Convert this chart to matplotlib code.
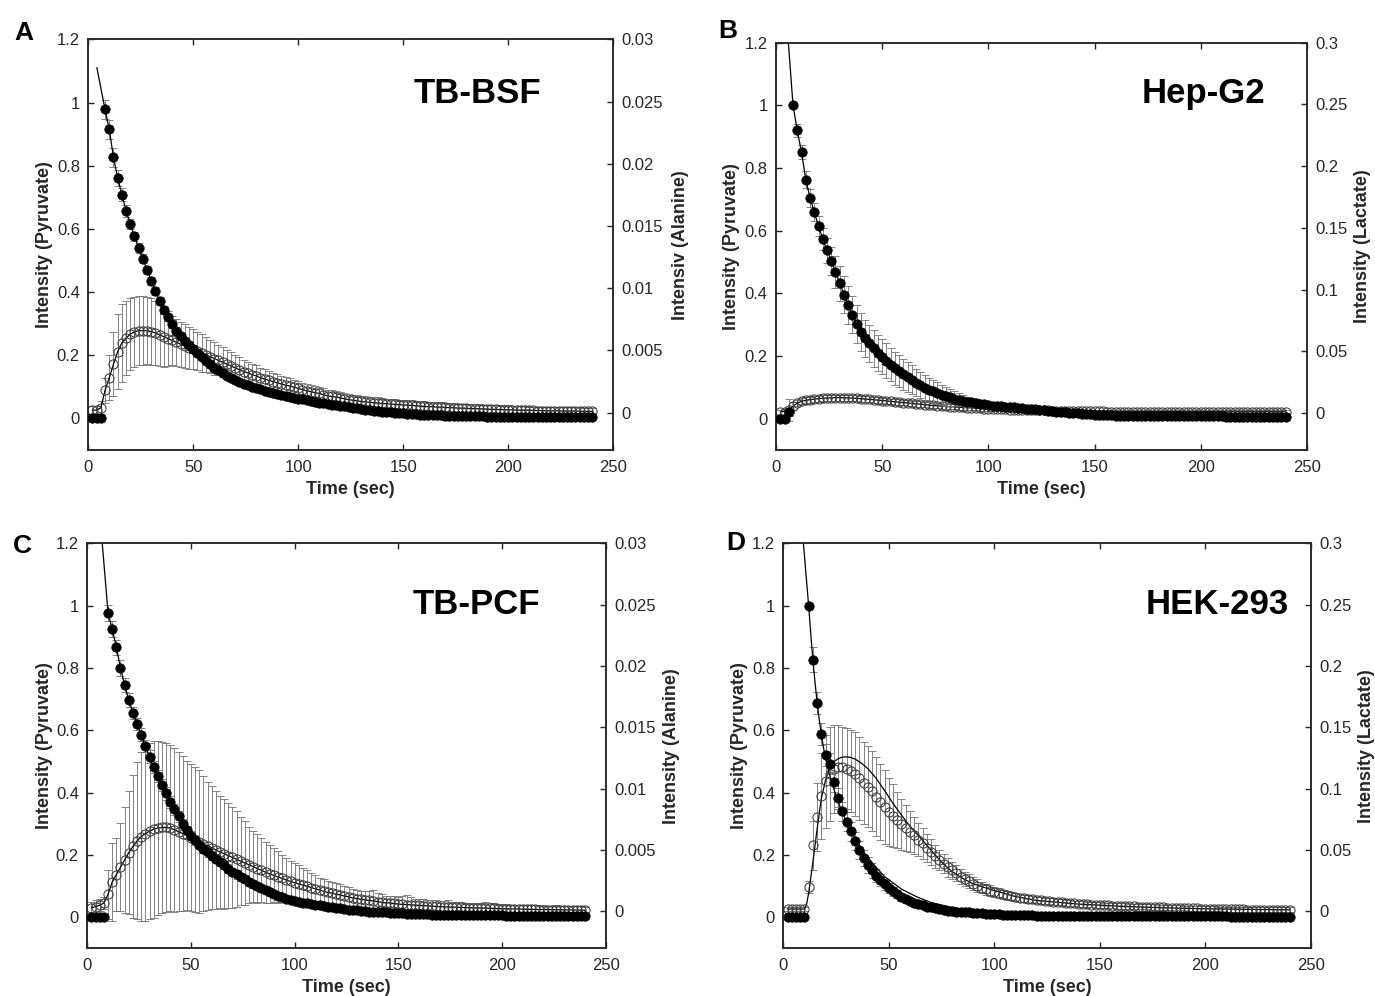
import numpy as np
import matplotlib
matplotlib.use('Agg')
import matplotlib.pyplot as plt

plt.rcParams['font.family'] = ['Liberation Sans', 'DejaVu Sans']

# ---------------- data ----------------
time_s = np.arange(2, 242, 2)  # acquisition times (s), 120 points

# Panel A : TB-BSF  (pyruvate left axis, alanine right axis)
pyr_A = [0, 0, 0, .978, .915, .826, .762, .708, .657, .615,
         .576, .539, .505, .470, .436, .403, .372, .344, .320, .298,
         .278, .261, .246, .232, .219, .206, .194, .182, .171, .161,
         .152, .143, .135, .128, .121, .115, .110, .105, .100, .096,
         .092, .088, .084, .081, .078, .075, .071, .068, .065, .062,
         .060, .057, .055, .052, .050, .048, .046, .044, .042, .040,
         .038, .036, .034, .032, .030, .028, .026, .024, .023, .021,
         .020, .019, .018, .017, .016, .015, .014, .013, .012, .012,
         .011, .011, .010, .010, .009, .009, .009, .008, .008, .008,
         .007, .007, .007, .007, .006, .006, .006, .006, .005, .005,
         .005, .005, .005, .005, .004, .004, .004, .004, .004, .004,
         .004, .004, .004, .003, .003, .003, .003, .003, .003, .003]
pyr_err_A = [.003, .003, .003, .030, .030, .030, .025, .020, .018, .016,
             .015, .015, .014, .014, .013, .013, .012, .012, .011, .011,
             .010, .010, .010, .010, .010, .010, .010, .010, .010, .010,
             .009, .009, .009, .009, .009, .008, .008, .008, .008, .008,
             .008, .008, .007, .007, .007, .007, .007, .007, .007, .007,
             .006, .006, .006, .006, .006, .006, .006, .006, .006, .006,
             .005, .005, .005, .005, .005, .005, .005, .005, .005, .005,
             .005, .005, .005, .005, .004, .004, .004, .004, .004, .004,
             .004, .004, .004, .004, .004, .004, .004, .004, .004, .004,
             .004, .004, .004, .003, .003, .003, .003, .003, .003, .003,
             .003, .003, .003, .003, .003, .003, .003, .003, .003, .003,
             .003, .003, .003, .003, .003, .003, .003, .003, .003, .003]
ala_A_milli = [0.2, 0.2, 0.4, 1.8, 2.8, 3.9, 4.9, 5.6, 6.0, 6.3,
               6.5, 6.6, 6.6, 6.6, 6.5, 6.4, 6.25, 6.1, 5.95, 5.8,
               5.65, 5.5, 5.35, 5.2, 5.1, 4.95, 4.8, 4.65, 4.5, 4.35,
               4.2, 4.05, 3.9, 3.75, 3.6, 3.45, 3.3, 3.2, 3.05, 2.95,
               2.8, 2.7, 2.6, 2.5, 2.4, 2.3, 2.2, 2.15, 2.05, 1.95,
               1.85, 1.75, 1.7, 1.6, 1.55, 1.45, 1.35, 1.3, 1.25, 1.2,
               1.1, 1.05, 1.0, 0.95, 0.9, 0.87, 0.83, 0.8, 0.77, 0.74,
               0.71, 0.69, 0.67, 0.65, 0.62, 0.6, 0.58, 0.55, 0.53, 0.5,
               0.48, 0.47, 0.45, 0.44, 0.42, 0.4, 0.39, 0.37, 0.36, 0.35,
               0.33, 0.32, 0.31, 0.3, 0.28, 0.27, 0.26, 0.25, 0.24, 0.23,
               0.22, 0.21, 0.2, 0.2, 0.19, 0.18, 0.17, 0.17, 0.16, 0.15,
               0.15, 0.14, 0.14, 0.13, 0.13, 0.12, 0.12, 0.11, 0.11, 0.1]
ala_err_A_milli = [0.3, 0.3, 0.5, 1.0, 1.8, 2.6, 3.0, 3.1, 3.0, 2.9,
                   2.8, 2.8, 2.8, 2.7, 2.7, 2.6, 2.5, 2.4, 2.2, 2.0,
                   1.9, 1.8, 1.8, 1.7, 1.6, 1.5, 1.5, 1.4, 1.3, 1.3,
                   1.2, 1.2, 1.1, 1.1, 1.0, 1.0, 0.95, 0.9, 0.9, 0.85,
                   0.8, 0.8, 0.75, 0.7, 0.7, 0.65, 0.65, 0.6, 0.6, 0.6,
                   0.55, 0.55, 0.55, 0.55, 0.55, 0.5, 0.5, 0.5, 0.5, 0.5,
                   0.45, 0.45, 0.45, 0.45, 0.45, 0.45, 0.45, 0.45, 0.45, 0.45,
                   0.4, 0.4, 0.4, 0.4, 0.4, 0.4, 0.4, 0.4, 0.4, 0.4,
                   0.4, 0.4, 0.4, 0.4, 0.35, 0.35, 0.35, 0.35, 0.35, 0.35,
                   0.35, 0.35, 0.35, 0.35, 0.35, 0.35, 0.35, 0.35, 0.35, 0.35,
                   0.3, 0.3, 0.3, 0.3, 0.3, 0.3, 0.3, 0.3, 0.3, 0.3,
                   0.3, 0.3, 0.3, 0.3, 0.3, 0.3, 0.3, 0.3, 0.3, 0.3]
pyr_fit_start_A = (4.1, 1.11)

# Panel B : Hep-G2 (pyruvate left, lactate right)
pyr_B = [0, 0, 0.02, 1.0, 0.92, 0.85, 0.763, 0.705, 0.66, 0.615,
         0.573, 0.538, 0.504, 0.468, 0.432, 0.396, 0.362, 0.332, 0.302, 0.276,
         0.256, 0.240, 0.224, 0.210, 0.197, 0.185, 0.172, 0.161, 0.152, 0.142,
         0.133, 0.124, 0.115, 0.107, 0.099, 0.092, 0.087, 0.082, 0.077, 0.072,
         0.068, 0.064, 0.060, 0.057, 0.054, 0.052, 0.050, 0.048, 0.046, 0.044,
         0.042, 0.041, 0.039, 0.038, 0.037, 0.036, 0.035, 0.033, 0.032, 0.031,
         0.030, 0.028, 0.027, 0.026, 0.024, 0.022, 0.021, 0.020, 0.019, 0.018,
         0.017, 0.016, 0.015, 0.014, 0.013, 0.012, 0.012, 0.011, 0.011, 0.010,
         0.010, 0.010, 0.009, 0.009, 0.009, 0.009, 0.008, 0.008, 0.008, 0.008,
         0.008, 0.007, 0.007, 0.007, 0.007, 0.007, 0.007, 0.007, 0.007, 0.007,
         0.007, 0.007, 0.007, 0.007, 0.007, 0.006, 0.006, 0.006, 0.006, 0.006,
         0.006, 0.006, 0.006, 0.006, 0.006, 0.005, 0.005, 0.005, 0.005, 0.005]
pyr_err_B = [0.005, 0.005, 0.01, 0.0, 0.02, 0.022, 0.026, 0.028, 0.03, 0.033,
             0.036, 0.04, 0.045, 0.05, 0.055, 0.058, 0.06, 0.06, 0.06, 0.06,
             0.06, 0.06, 0.058, 0.058, 0.056, 0.055, 0.053, 0.052, 0.05, 0.049,
             0.048, 0.046, 0.044, 0.042, 0.04, 0.038, 0.036, 0.034, 0.032, 0.03,
             0.027, 0.024, 0.021, 0.018, 0.016, 0.014, 0.013, 0.012, 0.011, 0.01,
             0.01, 0.009, 0.009, 0.008, 0.008, 0.008, 0.007, 0.007, 0.007, 0.006,
             0.006, 0.006, 0.006, 0.006, 0.006, 0.006, 0.006, 0.006, 0.006, 0.006,
             0.005, 0.005, 0.005, 0.005, 0.005, 0.005, 0.005, 0.005, 0.005, 0.005,
             0.005, 0.005, 0.005, 0.005, 0.005, 0.005, 0.005, 0.005, 0.005, 0.005,
             0.004, 0.004, 0.004, 0.004, 0.004, 0.004, 0.004, 0.004, 0.004, 0.004,
             0.004, 0.004, 0.004, 0.004, 0.004, 0.004, 0.004, 0.004, 0.004, 0.004,
             0.004, 0.004, 0.004, 0.004, 0.004, 0.004, 0.004, 0.004, 0.004, 0.004]
lac_B_milli = [1.0, 1.1, 2.5, 5.5, 8.0, 9.4, 10.2, 10.8, 11.2, 11.6,
               11.9, 12.1, 12.3, 12.4, 12.4, 12.3, 12.2, 12.0, 11.8, 11.6,
               11.3, 11.0, 10.7, 10.4, 10.1, 9.8, 9.4, 9.1, 8.7, 8.4,
               8.1, 7.8, 7.4, 7.1, 6.7, 6.4, 6.1, 5.8, 5.5, 5.3,
               5.1, 4.9, 4.7, 4.5, 4.3, 4.1, 3.9, 3.7, 3.5, 3.4,
               3.2, 3.1, 3.0, 2.9, 2.8, 2.7, 2.6, 2.5, 2.4, 2.3,
               2.2, 2.2, 2.1, 2.1, 2.0, 2.0, 1.9, 1.8, 1.8, 1.7,
               1.6, 1.5, 1.4, 1.4, 1.3, 1.2, 1.2, 1.1, 1.1, 1.1,
               1.1, 1.1, 1.1, 1.1, 1.1, 1.1, 1.1, 1.1, 1.1, 1.1,
               1.1, 1.1, 1.1, 1.1, 1.1, 1.0, 1.0, 1.0, 1.0, 1.0,
               1.0, 1.0, 1.0, 1.0, 1.0, 1.0, 1.0, 1.0, 1.0, 1.0,
               1.0, 1.0, 1.0, 1.0, 1.0, 1.0, 1.0, 1.0, 1.0, 1.0]
lac_err_B_milli = [1.5, 2.0, 9.0, 3.0, 2.5, 2.5, 2.5, 2.5, 2.5, 2.5,
                   2.5, 2.5, 2.5, 2.5, 2.5, 2.4, 2.4, 2.4, 2.4, 2.4,
                   2.4, 2.4, 2.4, 2.3, 2.3, 2.3, 2.3, 2.3, 2.3, 2.3,
                   2.2, 2.2, 2.2, 2.2, 2.1, 2.1, 2.1, 2.1, 2.0, 2.0,
                   2.0, 2.0, 1.9, 1.9, 1.9, 1.9, 1.8, 1.8, 1.8, 1.8,
                   1.7, 1.7, 1.7, 1.7, 1.7, 1.6, 1.6, 1.6, 1.6, 1.6,
                   1.5, 1.5, 1.5, 1.5, 1.5, 1.5, 1.5, 1.5, 1.5, 1.5,
                   1.4, 1.4, 1.4, 1.4, 1.4, 1.4, 1.4, 1.4, 1.4, 1.4,
                   1.3, 1.3, 1.3, 1.3, 1.3, 1.3, 1.3, 1.3, 1.3, 1.3,
                   1.3, 1.3, 1.3, 1.3, 1.3, 1.2, 1.2, 1.2, 1.2, 1.2,
                   1.2, 1.2, 1.2, 1.2, 1.2, 1.2, 1.2, 1.2, 1.2, 1.2,
                   1.2, 1.2, 1.2, 1.2, 1.2, 1.2, 1.2, 1.2, 1.2, 1.2]
pyr_fit_start_B = (5.8, 1.2)

# Panel C : TB-PCF (pyruvate left, alanine right)
pyr_C = [0, 0, 0, 0, 0.977, 0.925, 0.866, 0.80, 0.745, 0.697,
         0.656, 0.62, 0.586, 0.549, 0.515, 0.482, 0.453, 0.424, 0.397, 0.37,
         0.346, 0.324, 0.30, 0.279, 0.262, 0.248, 0.233, 0.220, 0.208, 0.197,
         0.187, 0.178, 0.167, 0.156, 0.146, 0.137, 0.129, 0.121, 0.113, 0.106,
         0.099, 0.092, 0.086, 0.080, 0.074, 0.069, 0.064, 0.059, 0.055, 0.052,
         0.049, 0.046, 0.044, 0.042, 0.040, 0.038, 0.035, 0.033, 0.031, 0.030,
         0.028, 0.026, 0.024, 0.023, 0.022, 0.020, 0.019, 0.018, 0.017, 0.016,
         0.015, 0.015, 0.014, 0.013, 0.012, 0.012, 0.011, 0.010, 0.010, 0.009,
         0.009, 0.009, 0.008, 0.008, 0.008, 0.007, 0.007, 0.007, 0.007, 0.006,
         0.006, 0.006, 0.006, 0.006, 0.006, 0.006, 0.006, 0.006, 0.006, 0.006,
         0.005, 0.005, 0.005, 0.005, 0.005, 0.005, 0.005, 0.005, 0.005, 0.005,
         0.004, 0.004, 0.004, 0.004, 0.004, 0.003, 0.003, 0.003, 0.003, 0.003]
pyr_err_C = [0.005, 0.005, 0.005, 0.005, 0.025, 0.025, 0.025, 0.025, 0.022, 0.022,
             0.02, 0.02, 0.02, 0.02, 0.02, 0.02, 0.02, 0.02, 0.02, 0.02,
             0.018, 0.017, 0.016, 0.015, 0.015, 0.015, 0.015, 0.015, 0.015, 0.015,
             0.013, 0.013, 0.013, 0.013, 0.013, 0.013, 0.013, 0.013, 0.013, 0.013,
             0.011, 0.011, 0.011, 0.011, 0.011, 0.011, 0.011, 0.011, 0.011, 0.011,
             0.009, 0.009, 0.009, 0.009, 0.009, 0.008, 0.008, 0.008, 0.008, 0.008,
             0.007, 0.007, 0.007, 0.007, 0.007, 0.007, 0.007, 0.007, 0.007, 0.007,
             0.006, 0.006, 0.006, 0.006, 0.006, 0.006, 0.006, 0.006, 0.006, 0.006,
             0.005, 0.005, 0.005, 0.005, 0.005, 0.005, 0.005, 0.005, 0.005, 0.005,
             0.005, 0.005, 0.005, 0.005, 0.005, 0.004, 0.004, 0.004, 0.004, 0.004,
             0.004, 0.004, 0.004, 0.004, 0.004, 0.004, 0.004, 0.004, 0.004, 0.004,
             0.004, 0.004, 0.004, 0.004, 0.004, 0.004, 0.004, 0.004, 0.004, 0.004]
ala_C_milli = [0.3, 0.4, 0.5, 0.7, 1.4, 2.4, 3.0, 3.6, 4.2, 4.8,
               5.3, 5.75, 6.1, 6.35, 6.55, 6.7, 6.8, 6.85, 6.85, 6.8,
               6.65, 6.5, 6.35, 6.2, 6.0, 5.85, 5.7, 5.5, 5.35, 5.2,
               5.0, 4.85, 4.7, 4.55, 4.4, 4.25, 4.1, 3.95, 3.8, 3.65,
               3.5, 3.35, 3.2, 3.05, 2.95, 2.8, 2.7, 2.55, 2.45, 2.35,
               2.25, 2.15, 2.05, 1.95, 1.85, 1.75, 1.65, 1.55, 1.5, 1.4,
               1.35, 1.25, 1.2, 1.1, 1.05, 1.0, 0.95, 0.9, 0.85, 0.8,
               0.75, 0.7, 0.7, 0.65, 0.6, 0.58, 0.56, 0.54, 0.52, 0.5,
               0.48, 0.46, 0.44, 0.42, 0.4, 0.38, 0.37, 0.36, 0.34, 0.33,
               0.32, 0.31, 0.3, 0.29, 0.28, 0.27, 0.26, 0.25, 0.24, 0.23,
               0.22, 0.21, 0.2, 0.2, 0.19, 0.18, 0.17, 0.17, 0.16, 0.16,
               0.15, 0.15, 0.14, 0.14, 0.13, 0.13, 0.12, 0.12, 0.11, 0.1]
ala_err_C_milli = [0.5, 0.5, 0.5, 0.5, 2.0, 3.2, 3.0, 3.6, 4.3, 5.0,
                   5.8, 6.4, 6.9, 7.1, 7.2, 7.2, 7.1, 7.0, 6.9, 6.8,
                   6.7, 6.5, 6.3, 6.1, 6.0, 5.9, 5.8, 5.5, 5.2, 5.0,
                   4.8, 4.6, 4.5, 4.3, 4.1, 3.9, 3.6, 3.4, 3.1, 2.9,
                   2.8, 2.6, 2.5, 2.4, 2.2, 2.1, 1.9, 1.8, 1.7, 1.6,
                   1.5, 1.4, 1.3, 1.2, 1.1, 1.0, 1.0, 0.95, 0.9, 0.9,
                   0.85, 0.8, 0.8, 0.75, 0.7, 0.7, 0.7, 0.8, 0.9, 0.7,
                   0.7, 0.6, 0.6, 0.6, 0.6, 0.7, 0.8, 0.6, 0.5, 0.5,
                   0.5, 0.5, 0.5, 0.5, 0.45, 0.45, 0.6, 0.45, 0.45, 0.45,
                   0.4, 0.4, 0.4, 0.4, 0.4, 0.5, 0.4, 0.4, 0.4, 0.4,
                   0.4, 0.35, 0.35, 0.35, 0.35, 0.35, 0.35, 0.35, 0.35, 0.35,
                   0.3, 0.3, 0.4, 0.3, 0.3, 0.3, 0.3, 0.3, 0.3, 0.3]
pyr_fit_start_C = (7.2, 1.2)

# Panel D : HEK-293 (pyruvate left, lactate right) - fitted model curves differ from data
pyr_D = [0, 0, 0, 0, 0, 1.0, 0.826, 0.688, 0.587, 0.52,
         0.493, 0.434, 0.383, 0.34, 0.306, 0.275, 0.245, 0.215, 0.19, 0.168,
         0.15, 0.133, 0.118, 0.105, 0.094, 0.083, 0.073, 0.064, 0.057, 0.051,
         0.046, 0.042, 0.038, 0.034, 0.031, 0.028, 0.025, 0.023, 0.021, 0.019,
         0.018, 0.017, 0.016, 0.015, 0.014, 0.013, 0.012, 0.011, 0.010, 0.009,
         0.009, 0.008, 0.007, 0.007, 0.007, 0.006, 0.006, 0.006, 0.006, 0.005,
         0.005, 0.005, 0.005, 0.005, 0.005, 0.005, 0.005, 0.005, 0.005, 0.005,
         0.004, 0.004, 0.004, 0.004, 0.004, 0.004, 0.004, 0.004, 0.004, 0.004,
         0.004, 0.004, 0.004, 0.004, 0.004, 0.003, 0.003, 0.003, 0.003, 0.003,
         0.003, 0.003, 0.003, 0.003, 0.003, 0.003, 0.003, 0.003, 0.003, 0.003,
         0.003, 0.003, 0.003, 0.003, 0.003, 0.002, 0.002, 0.002, 0.002, 0.002,
         0.002, 0.002, 0.002, 0.002, 0.002, 0.002, 0.002, 0.002, 0.002, 0.002]
pyr_err_D = [0.003, 0.003, 0.003, 0.003, 0.003, 0.0, 0.04, 0.036, 0.035, 0.035,
             0.035, 0.033, 0.031, 0.03, 0.03, 0.03, 0.029, 0.028, 0.027, 0.025,
             0.023, 0.021, 0.019, 0.017, 0.015, 0.014, 0.013, 0.012, 0.011, 0.01,
             0.009, 0.008, 0.008, 0.007, 0.007, 0.006, 0.006, 0.006, 0.005, 0.005,
             0.005, 0.005, 0.005, 0.005, 0.005, 0.005, 0.005, 0.005, 0.005, 0.005,
             0.004, 0.004, 0.004, 0.004, 0.004, 0.004, 0.004, 0.004, 0.004, 0.004,
             0.004, 0.004, 0.004, 0.004, 0.004, 0.004, 0.004, 0.004, 0.004, 0.004,
             0.003, 0.003, 0.003, 0.003, 0.003, 0.003, 0.003, 0.003, 0.003, 0.003,
             0.003, 0.003, 0.003, 0.003, 0.003, 0.003, 0.003, 0.003, 0.003, 0.003,
             0.003, 0.003, 0.003, 0.003, 0.003, 0.003, 0.003, 0.003, 0.003, 0.003,
             0.003, 0.003, 0.003, 0.003, 0.003, 0.003, 0.003, 0.003, 0.003, 0.003,
             0.003, 0.003, 0.003, 0.003, 0.003, 0.003, 0.003, 0.003, 0.003, 0.003]
lac_D_milli = [2.0, 2.0, 2.0, 2.0, 2.0, 20, 54, 77, 94, 106,
               112, 116, 117.6, 117.6, 116.5, 114.5, 112, 108.5, 105, 101.5,
               98, 93.5, 89, 85, 81, 78, 74.5, 71, 68, 65,
               62, 58.5, 55.5, 52, 48.5, 45, 42, 39, 36, 33.5,
               31, 28.5, 26.5, 24.5, 22.5, 21, 19.5, 18, 17, 16,
               15, 14, 13.2, 12.5, 11.8, 11.2, 10.7, 10.2, 9.8, 9.4,
               9.0, 8.6, 8.3, 8.0, 7.7, 7.4, 7.1, 6.8, 6.5, 6.3,
               6.0, 5.8, 5.6, 5.4, 5.2, 5.0, 4.9, 4.8, 4.6, 4.5,
               4.4, 4.3, 4.1, 4.0, 3.9, 3.8, 3.7, 3.6, 3.4, 3.3,
               3.2, 3.1, 3.0, 2.9, 2.8, 2.7, 2.6, 2.5, 2.4, 2.3,
               2.2, 2.1, 2.0, 1.9, 1.9, 1.8, 1.8, 1.7, 1.7, 1.6,
               1.6, 1.5, 1.5, 1.5, 1.4, 1.4, 1.4, 1.3, 1.3, 1.3]
lac_err_D_milli = [2, 2, 2, 2, 2, 5, 20, 28, 35, 38,
                   38, 36, 34, 33, 33, 33.5, 34, 34, 33.5, 33,
                   32.5, 32, 31, 30, 28, 25.5, 23, 21, 18.5, 16.5,
                   15, 13.5, 12.5, 11.5, 10.5, 9.5, 8.5, 8, 7.5, 7,
                   6.5, 6.2, 6, 5.7, 5.4, 5.1, 4.8, 4.5, 4.2, 4,
                   3.8, 3.6, 3.5, 3.4, 3.3, 3.2, 3.1, 3.0, 2.9, 2.8,
                   2.7, 2.7, 2.6, 2.6, 2.5, 2.5, 2.5, 2.4, 2.4, 2.4,
                   2.3, 2.3, 2.3, 2.3, 2.2, 2.2, 2.2, 2.2, 2.2, 2.2,
                   2.1, 2.1, 2.1, 2.1, 2.1, 2.1, 2.1, 2.1, 2.1, 2.1,
                   2.0, 2.0, 2.0, 2.0, 2.0, 2.0, 2.0, 2.0, 2.0, 2.0,
                   2.0, 2.0, 2.0, 2.0, 2.0, 2.0, 2.0, 2.0, 2.0, 2.0,
                   2.0, 2.0, 2.0, 2.0, 2.0, 2.0, 2.0, 2.0, 2.0, 2.0]
fit_t_pyr_D = [9.5, 10, 11, 12, 13, 14, 15, 16, 17, 18, 19, 20, 22, 24, 26, 28, 30,
               32, 34, 36, 38, 40, 44, 48, 52, 56, 60, 64, 70, 75, 80, 90, 100,
               110, 130, 160, 200, 240]
fit_pyr_D = [1.2, 1.16, 1.08, 1.0, 0.91, 0.826, 0.755, 0.69, 0.635, 0.587, 0.545,
             0.51, 0.455, 0.41, 0.37, 0.335, 0.305, 0.277, 0.252, 0.23, 0.21, 0.192,
             0.16, 0.13, 0.11, 0.09, 0.076, 0.063, 0.047, 0.039, 0.031, 0.021, 0.016,
             0.012, 0.007, 0.004, 0.002, 0.001]
fit_t_lac_D = [2, 10, 11, 12, 14, 16, 18, 20, 22, 24, 26, 28, 30, 32, 34, 36, 38,
               40, 44, 48, 52, 56, 60, 64, 68, 72, 76, 80, 85, 90, 100, 110, 120,
               140, 160, 180, 200, 240]
fit_lac_D_milli = [2, 2, 6, 15, 40, 67, 92, 107, 117, 122, 124.5, 125.8, 126,
                   125.5, 124.2, 122, 119.5, 116.5, 108.5, 98.5, 88, 78.5, 69.5,
                   62, 54, 46, 38.5, 32.5, 27, 22.5, 17, 12.2, 9.0, 6.0, 4.2,
                   3.0, 2.2, 1.3]

# ---------------- drawing ----------------
INK = '#262626'
ERR = '#707070'

fig = plt.figure(figsize=(13.75, 9.96), dpi=100)
fig.patch.set_facecolor('white')

x_ticks = [0, 50, 100, 150, 200, 250]
left_ticks = [0, 0.2, 0.4, 0.6, 0.8, 1.0, 1.2]
left_labels = ['0', '0.2', '0.4', '0.6', '0.8', '1', '1.2']
ala_ticks = [0, 0.005, 0.01, 0.015, 0.02, 0.025, 0.03]
ala_labels = ['0', '0.005', '0.01', '0.015', '0.02', '0.025', '0.03']
lac_ticks = [0, 0.05, 0.1, 0.15, 0.2, 0.25, 0.3]
lac_labels = ['0', '0.05', '0.1', '0.15', '0.2', '0.25', '0.3']


def style_axis(ax):
    for s in ax.spines.values():
        s.set_color(INK)
        s.set_linewidth(1.1)


def panel(rect, pyr, pyr_err, pyr_fit_t, pyr_fit_v, sec, sec_err, sec_fit_t, sec_fit_v,
          sec_ticks, sec_labels, sec_lim, sec_name, right_label_x, left_label_x, xlabel_y):
    ax = fig.add_axes(rect)
    ax2 = ax.twinx()
    ax.set_zorder(ax2.get_zorder() + 1)
    ax.patch.set_visible(False)

    # secondary metabolite (open circles) on right axis
    ax2.errorbar(time_s, sec, yerr=sec_err, fmt='none', ecolor=ERR, elinewidth=0.6,
                 capsize=3, capthick=0.6, zorder=1)
    ax2.plot(sec_fit_t, sec_fit_v, '-', color='black', lw=0.9, zorder=2)
    ax2.plot(time_s, sec, 'o', ms=6.6, mfc='none', mec='#3a3a3a', mew=0.75, zorder=3)

    # pyruvate (filled circles) on left axis
    ax.errorbar(time_s, pyr, yerr=pyr_err, fmt='none', ecolor=ERR, elinewidth=0.6,
                capsize=3, capthick=0.6, zorder=1)
    ax.plot(pyr_fit_t, pyr_fit_v, '-', color='black', lw=0.9, zorder=2)
    ax.plot(time_s, pyr, 'o', ms=6.8, mfc='black', mec='black', mew=0.5, zorder=3)

    ax.set_xlim(0, 250)
    ax.set_ylim(-0.1, 1.2)
    ax2.set_ylim(*sec_lim)
    ax.set_xticks(x_ticks, [str(v) for v in x_ticks])
    ax.set_yticks(left_ticks, left_labels)
    ax2.set_yticks(sec_ticks, sec_labels)

    ax.tick_params(axis='x', direction='in', top=True, bottom=True, length=4,
                   width=1.0, color=INK, labelcolor=INK, labelsize=12, pad=7)
    ax.tick_params(axis='y', direction='in', left=True, right=False, length=4,
                   width=1.0, color=INK, labelcolor=INK, labelsize=12, pad=6)
    ax2.tick_params(axis='y', direction='in', right=True, left=False, length=4,
                    width=1.0, color=INK, labelcolor=INK, labelsize=12, pad=6)
    style_axis(ax)
    style_axis(ax2)

    ax.set_xlabel('Time (sec)', fontsize=13, fontweight='bold', color=INK)
    ax.xaxis.set_label_coords(0.5, xlabel_y)
    ax.set_ylabel('Intensity (Pyruvate)', fontsize=13, fontweight='bold', color=INK)
    ax.yaxis.set_label_coords(left_label_x, 0.5)
    ax2.set_ylabel(sec_name, fontsize=13, fontweight='bold', color=INK, rotation=90)
    ax2.yaxis.set_label_coords(right_label_x, 0.5)
    return ax, ax2


def pyr_fit_line(start, pyr):
    pyr = np.asarray(pyr, dtype=float)
    i0 = int(np.argmax(pyr > 0.5))
    return np.concatenate([[start[0]], time_s[i0:]]), np.concatenate([[start[1]], pyr[i0:]])


milli = 1e-3

# A
ft, fv = pyr_fit_line(pyr_fit_start_A, pyr_A)
ala_A = np.array(ala_A_milli) * milli
panel([0.0642, 0.5482, 0.3818, 0.4123], pyr_A, pyr_err_A, ft, fv,
      ala_A, np.array(ala_err_A_milli) * milli, time_s, ala_A,
      ala_ticks, ala_labels, (-0.003, 0.03), 'Intensiv (Alanine)', 1.112, -0.067, -0.075)

# B
ft, fv = pyr_fit_line(pyr_fit_start_B, pyr_B)
lac_B = np.array(lac_B_milli) * milli
panel([0.5644, 0.5482, 0.3860, 0.4089], pyr_B, pyr_err_B, ft, fv,
      lac_B, np.array(lac_err_B_milli) * milli, time_s, lac_B,
      lac_ticks, lac_labels, (-0.03, 0.3), 'Intensity (Lactate)', 1.089, -0.068, -0.076)

# C
ft, fv = pyr_fit_line(pyr_fit_start_C, pyr_C)
ala_C = np.array(ala_C_milli) * milli
panel([0.0635, 0.0479, 0.3770, 0.4066], pyr_C, pyr_err_C, ft, fv,
      ala_C, np.array(ala_err_C_milli) * milli, time_s, ala_C,
      ala_ticks, ala_labels, (-0.003, 0.03), 'Intensity (Alanine)', 1.110, -0.066, -0.076)

# D
panel([0.5697, 0.0479, 0.3836, 0.4066], pyr_D, pyr_err_D, fit_t_pyr_D, fit_pyr_D,
      np.array(lac_D_milli) * milli, np.array(lac_err_D_milli) * milli,
      fit_t_lac_D, np.array(fit_lac_D_milli) * milli,
      lac_ticks, lac_labels, (-0.03, 0.3), 'Intensity (Lactate)', 1.090, -0.067, -0.076)

# titles and panel letters
for txt, x, y in [('TB-BSF', 0.3469, 0.8966), ('Hep-G2', 0.8749, 0.8966),
                  ('TB-PCF', 0.3462, 0.3835), ('HEK-293', 0.8855, 0.3835)]:
    fig.text(x, y, txt, fontsize=25, fontweight='bold', color='black',
             ha='center', va='baseline')
for txt, x, y in [('A', 0.0172, 0.9598), ('B', 0.5291, 0.9615),
                  ('C', 0.0162, 0.4448), ('D', 0.5353, 0.4478)]:
    fig.text(x, y, txt, fontsize=19, fontweight='bold', color='black',
             ha='center', va='baseline')

fig.savefig('out.png', dpi=100, facecolor='white')
